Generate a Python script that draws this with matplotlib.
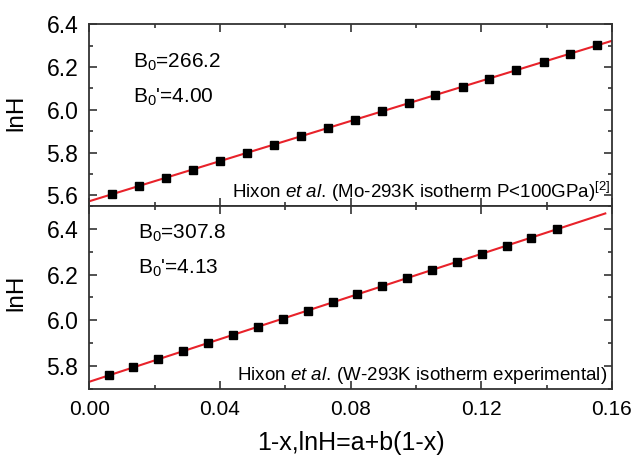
import matplotlib
matplotlib.use("Agg")
import matplotlib.pyplot as plt
from matplotlib.ticker import MultipleLocator, FormatStrFormatter

plt.rcParams['font.family'] = ['Liberation Sans', 'DejaVu Sans']
plt.rcParams['mathtext.fontset'] = 'custom'
plt.rcParams['mathtext.rm'] = 'Liberation Sans'
plt.rcParams['mathtext.it'] = 'Liberation Sans:italic'

# Mo data (top panel)
x_mo = [0.0069, 0.0152, 0.0234, 0.0317, 0.0399, 0.0482, 0.0565, 0.0647, 0.0730, 0.0812,
        0.0895, 0.0978, 0.1060, 0.1143, 0.1225, 0.1308, 0.1391, 0.1473, 0.1556]
y_mo = [5.605, 5.644, 5.683, 5.721, 5.760, 5.799, 5.837, 5.876, 5.915, 5.953,
        5.992, 6.031, 6.069, 6.108, 6.146, 6.185, 6.224, 6.262, 6.301]
fit_mo = (5.573, 4.68)      # a, b
fitx_mo = [0.0, 0.16]

# W data (bottom panel)
x_w = [0.0059, 0.0135, 0.0211, 0.0288, 0.0364, 0.0440, 0.0516, 0.0592, 0.0669, 0.0745,
       0.0821, 0.0897, 0.0973, 0.1050, 0.1126, 0.1202, 0.1278, 0.1354, 0.1431]
y_w = [5.758, 5.793, 5.829, 5.864, 5.900, 5.935, 5.971, 6.006, 6.042, 6.078,
       6.113, 6.149, 6.184, 6.220, 6.256, 6.291, 6.327, 6.362, 6.398]
fit_w = (5.730, 4.67)
fitx_w = [0.0, 0.158]

fig = plt.figure(figsize=(6.34, 4.55), dpi=100)
ax1 = fig.add_axes([0.141, 0.547, 0.824, 0.400])
ax2 = fig.add_axes([0.141, 0.146, 0.824, 0.401])

frame = '#333333'

def style(ax, ylim, bottom_labels, label_y):
    ax.set_xlim(0, 0.16)
    ax.set_ylim(*ylim)
    ax.xaxis.set_major_locator(MultipleLocator(0.04))
    ax.xaxis.set_minor_locator(MultipleLocator(0.02))
    ax.yaxis.set_major_locator(MultipleLocator(0.2))
    ax.yaxis.set_minor_locator(MultipleLocator(0.1))
    ax.tick_params(which='both', direction='in', top=True, right=True,
                   width=1.2, color=frame, pad=8)
    ax.tick_params(axis='y', labelsize=16.5)
    ax.tick_params(axis='x', labelsize=15)
    ax.tick_params(which='major', length=6)
    ax.tick_params(which='minor', length=3)
    if not bottom_labels:
        ax.tick_params(labelbottom=False)
    for s in ax.spines.values():
        s.set_linewidth(1.3)
        s.set_color(frame)
    ax.yaxis.set_major_formatter(FormatStrFormatter('%.1f'))
    ax.set_ylabel('lnH', fontsize=17.5)
    ax.yaxis.set_label_coords(-0.118, label_y)

def panel(ax, x, y, fit, fitx):
    fy = [fit[0] + fit[1] * v for v in fitx]
    ax.plot(fitx, fy, color='#e8222a', lw=1.5, zorder=2)
    ax.plot(x, y, 's', color='black', markersize=6, zorder=3)

panel(ax1, x_mo, y_mo, fit_mo, fitx_mo)
style(ax1, (5.55, 6.4), False, 0.514)
ax1.text(0.083, 0.79, r'B$_0$=266.2', transform=ax1.transAxes, fontsize=15, va='center')
ax1.text(0.083, 0.60, r"B$_0$'=4.00", transform=ax1.transAxes, fontsize=15, va='center')
ax1.text(0.997, 0.045, r'Hixon $et\ al.\,$(Mo-293K isotherm P<100GPa)$^{[2]}$',
         transform=ax1.transAxes, fontsize=13.5, ha='right', va='baseline')

panel(ax2, x_w, y_w, fit_w, fitx_w)
style(ax2, (5.7, 6.5), True, 0.524)
ax2.xaxis.set_major_formatter(FormatStrFormatter('%.2f'))
ax2.text(0.093, 0.852, r'B$_0$=307.8', transform=ax2.transAxes, fontsize=15, va='center')
ax2.text(0.093, 0.66, r"B$_0$'=4.13", transform=ax2.transAxes, fontsize=15, va='center')
ax2.text(0.991, 0.048, r'Hixon $et\ al.\,$(W-293K isotherm experimental)',
         transform=ax2.transAxes, fontsize=13.5, ha='right', va='baseline')
ax2.set_xlabel('1-x,lnH=a+b(1-x)', fontsize=18, labelpad=9)

fig.savefig('out.png', dpi=100)
